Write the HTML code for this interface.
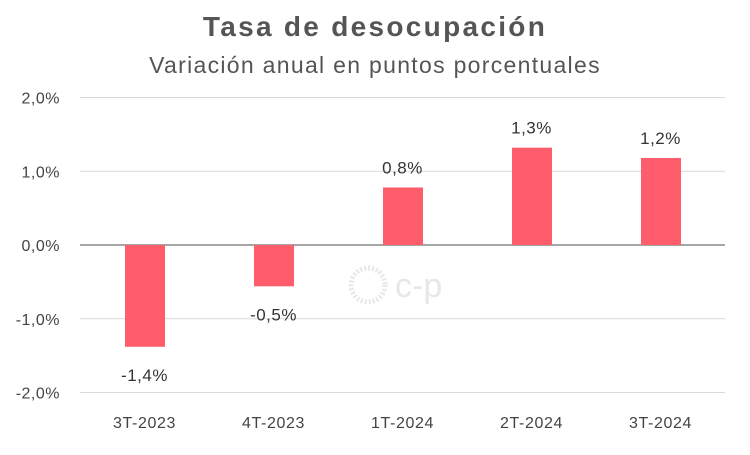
<!DOCTYPE html>
<html><head><meta charset="utf-8"><style>
body{margin:0;background:#fff;width:750px;height:450px;overflow:hidden;font-family:"Liberation Sans",sans-serif}
</style></head><body>
<svg width="750" height="450" id="c">
<text x="375" y="36" text-anchor="middle" font-size="28" font-weight="bold" letter-spacing="2.3" fill="#555">Tasa de desocupación</text>
<text x="375" y="73" text-anchor="middle" font-size="23" letter-spacing="1.3" fill="#555">Variación anual en puntos porcentuales</text>
<g id="grid"></g><g id="bars"></g>
<g opacity="0.35">
<circle cx="368" cy="285" r="17" fill="none" stroke="#bbb" stroke-dasharray="2 2" stroke-width="5"/>
<text x="395" y="297" font-size="34" fill="#bbb">c-p</text>
</g>
</svg>
<script>
const categories=["3T-2023","4T-2023","1T-2024","2T-2024","3T-2024"];
const values=[-1.38,-0.56,0.78,1.32,1.18];
const valueLabels=["-1,4%","-0,5%","0,8%","1,3%","1,2%"];
const ticks=[2,1,0,-1,-2];
const tickLabels=["2,0%","1,0%","0,0%","-1,0%","-2,0%"];
const ns="http://www.w3.org/2000/svg";
const x0=80,x1=725,y=v=>245-v*73.75;
const bw=(x1-x0)/categories.length;
const cx=i=>x0+bw*(i+0.5);
function mk(t,a,p){const e=document.createElementNS(ns,t);for(const k in a)e.setAttribute(k,a[k]);p.appendChild(e);return e;}
const g=document.getElementById('grid'),b=document.getElementById('bars');
ticks.forEach((t,i)=>{
 const l=mk('line',{x1:x0,x2:x1,y1:y(t),y2:y(t),stroke:t===0?'#888':'#d9d9d9','stroke-width':t===0?1.5:1},g);
 
 
 const tx=mk('text',{x:60,y:y(t)+6,'text-anchor':'end','font-size':16,'letter-spacing':0.5,fill:'#444'},g);
 tx.textContent=tickLabels[i];
 
 
});
categories.forEach((c,i)=>{
 const v=values[i];
 const r=mk('rect',{x:cx(i)-19.5,width:40,y:Math.min(y(v),y(0)),height:Math.abs(y(v)-y(0)),fill:'#ff5c6c'},b);
 
 
 const lt=mk('text',{x:cx(i),y:v>=0?y(v)-14:y(v)+34,'text-anchor':'middle','font-size':17,'letter-spacing':0.5,fill:'#333'},b);
 lt.textContent=valueLabels[i];
 
 
 const ct=mk('text',{x:cx(i),y:428,'text-anchor':'middle','font-size':16,'letter-spacing':0.6,fill:'#444'},b);
 ct.textContent=c;
 
 
});
</script>
</body></html>
